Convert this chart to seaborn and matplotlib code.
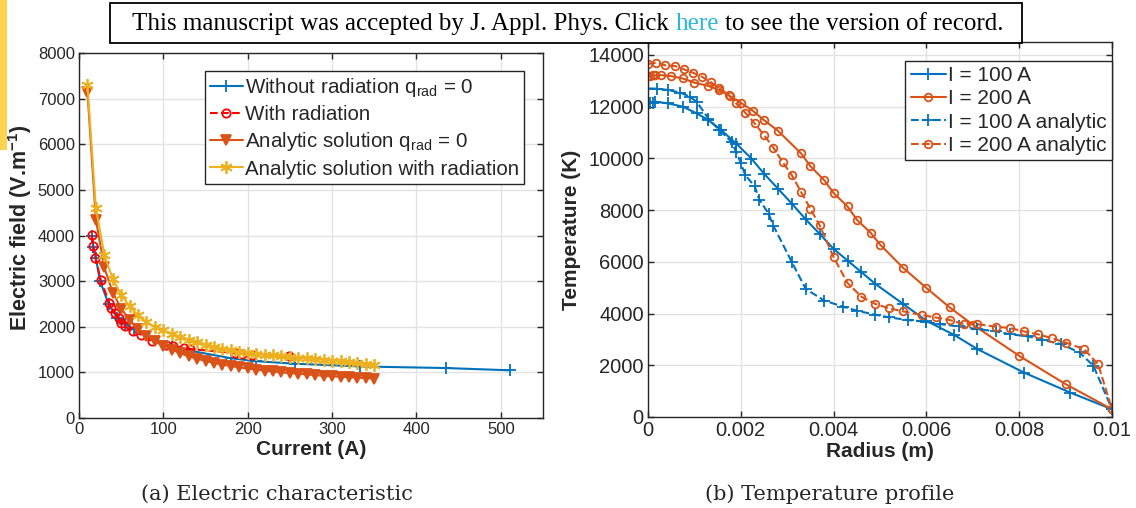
import numpy as np
import seaborn as sns
import matplotlib.pyplot as plt
from matplotlib.patches import Rectangle

# (a) electric characteristic
cur_norad = [15, 17, 20, 25, 35, 45, 55, 65, 110, 180, 210, 256, 333, 435, 511]
e_norad = [4000, 3750, 3500, 3000, 2500, 2200, 2050, 1950, 1550, 1310, 1245, 1190, 1130, 1095, 1045]

cur_rad = [15, 17, 19.5, 25.8, 36, 38.5, 42.7, 47, 50, 54, 63.5, 73.6, 87, 103.6, 111,
           124, 132, 185, 193, 205.6, 248.8]
e_rad = [4018, 3763, 3507, 3032, 2520, 2411, 2301, 2192, 2082, 2009, 1900, 1826, 1680,
         1607, 1585, 1534, 1512, 1425, 1410, 1388, 1366]

cur_an = [10, 20, 30, 40, 50, 60, 70, 80, 90, 100, 110, 120, 130, 140, 150, 160, 170, 180,
          190, 200, 210, 220, 230, 240, 250, 260, 270, 280, 290, 300, 310, 320, 330, 340, 350]
e_an0 = [7150, 4350, 3300, 2750, 2400, 2150, 1950, 1800, 1680, 1580, 1500, 1420, 1350, 1300,
         1250, 1210, 1170, 1140, 1110, 1085, 1060, 1040, 1020, 1000, 985, 970, 955, 940, 925,
         915, 905, 895, 885, 875, 865]
e_anrad = [7300, 4600, 3580, 3050, 2700, 2450, 2250, 2100, 2000, 1920, 1840, 1770, 1710, 1660,
           1610, 1560, 1520, 1485, 1450, 1420, 1400, 1385, 1370, 1355, 1335, 1320, 1305, 1290,
           1275, 1260, 1240, 1220, 1200, 1180, 1160]

# (b) temperature profile
r100 = [0, 0.00005, 0.0001, 0.00016, 0.00044, 0.00075, 0.00105, 0.0013, 0.00158, 0.0019,
        0.00223, 0.0025, 0.0028, 0.0031, 0.0034, 0.0037, 0.004, 0.0043, 0.0046, 0.0049,
        0.0055, 0.006, 0.0066, 0.0071, 0.0081, 0.0091, 0.01]
t100 = [12150, 12150, 12160, 12190, 12125, 12000, 11740, 11480, 11090, 10575, 9990, 9410,
        8830, 8250, 7640, 7080, 6500, 6050, 5600, 5145, 4370, 3720, 3170, 2625, 1720, 944, 300]

r200 = [0, 0.00005, 0.0001, 0.00016, 0.00028, 0.0005, 0.00075, 0.001, 0.0013, 0.00154,
        0.00176, 0.002, 0.00226, 0.0025, 0.0028, 0.0033, 0.0035, 0.0038, 0.004, 0.0043,
        0.0045, 0.0048, 0.005, 0.0055, 0.006, 0.0065, 0.007, 0.008, 0.009, 0.01]
t200 = [13200, 13200, 13210, 13210, 13220, 13180, 13090, 12930, 12800, 12640, 12410, 12150,
        11840, 11480, 11070, 10190, 9700, 9150, 8660, 8140, 7630, 7120, 6670, 5765, 4990,
        4240, 3570, 2365, 1270, 300]

r100_an = [0, 0.0002, 0.00044, 0.0007, 0.0009, 0.00105, 0.0013, 0.00154, 0.0018, 0.0019,
           0.002, 0.0021, 0.0023, 0.0024, 0.0026, 0.0027, 0.0031, 0.0034, 0.0038, 0.0042,
           0.0045, 0.0049, 0.0052, 0.0056, 0.006, 0.0063, 0.0067, 0.0071, 0.0075, 0.0078,
           0.0082, 0.0085, 0.0089, 0.0093, 0.0096, 0.01]
t100_an = [12700, 12700, 12640, 12540, 12385, 12190, 11540, 11090, 10640, 10250, 9820, 9345,
           8920, 8400, 7860, 7400, 5990, 4950, 4500, 4270, 4110, 3955, 3850, 3750, 3680, 3590,
           3500, 3400, 3310, 3200, 3115, 2985, 2820, 2495, 1980, 300]

r200_an = [0, 0.00018, 0.00037, 0.00058, 0.00078, 0.00097, 0.00116, 0.00135, 0.00154, 0.00174,
           0.0019, 0.0021, 0.0023, 0.0025, 0.0027, 0.0029, 0.0031, 0.0033, 0.0035, 0.0037,
           0.004, 0.0043, 0.0046, 0.0049, 0.0052, 0.0055, 0.0059, 0.0062, 0.0065, 0.0068,
           0.0071, 0.0075, 0.0078, 0.0081, 0.0084, 0.0087, 0.009, 0.0094, 0.0097, 0.01]
t200_an = [13650, 13700, 13600, 13570, 13440, 13310, 13160, 12950, 12710, 12450, 12125, 11760,
           11350, 10900, 10420, 9860, 9350, 8700, 8050, 7410, 6180, 5180, 4650, 4370, 4200,
           4085, 3940, 3850, 3750, 3600, 3590, 3490, 3440, 3310, 3200, 3050, 2880, 2620, 2040, 300]

blue = '#0072BD'
orange = '#D95319'
yellow = '#EDB120'
red = '#FF0000'

sns.set_style('whitegrid')
plt.rcParams['font.family'] = ['Liberation Sans', 'DejaVu Sans']
plt.rcParams['mathtext.fontset'] = 'custom'
plt.rcParams['mathtext.rm'] = 'Liberation Sans'
plt.rcParams['mathtext.it'] = 'Liberation Sans:italic'
plt.rcParams['mathtext.bf'] = 'Liberation Sans:bold'

fig = plt.figure(figsize=(11.36, 5.08), dpi=100)
ax1 = fig.add_axes([79 / 1136, 90 / 508, 464 / 1136, 365 / 508])
ax2 = fig.add_axes([648 / 1136, 91 / 508, 464 / 1136, 375 / 508])

asterisk = (6, 2, 0)


def draw(ax, x, y, col, mk, ms, ls, label, filled=False):
    sns.lineplot(x=x, y=y, ax=ax, color=col, marker=mk, markersize=ms,
                 markeredgecolor=col, markerfacecolor=col if filled else 'none',
                 markeredgewidth=1.3, linewidth=1.5, linestyle=ls, estimator=None,
                 label=label)


draw(ax1, cur_norad, e_norad, blue, '+', 9, '-', 'Without radiation q$_{\\rm rad}$ = 0')
draw(ax1, cur_rad, e_rad, red, 'o', 6, '--', 'With radiation')
draw(ax1, cur_an, e_an0, orange, 'v', 7, '-', 'Analytic solution q$_{\\rm rad}$ = 0', filled=True)
draw(ax1, cur_an, e_anrad, yellow, asterisk, 9, '-', 'Analytic solution with radiation')

draw(ax2, r100, t100, blue, '+', 9, '-', 'I = 100 A')
draw(ax2, r200, t200, orange, 'o', 5.5, '-', 'I = 200 A')
draw(ax2, r100_an, t100_an, blue, '+', 9, '--', 'I = 100 A analytic')
draw(ax2, r200_an, t200_an, orange, 'o', 5.5, '--', 'I = 200 A analytic')

for ax, ts in ((ax1, 12), (ax2, 14.5)):
    ax.grid(True, color='#E3E3E3', linewidth=1)
    for s in ax.spines.values():
        s.set_color('#262626')
        s.set_linewidth(1)
    ax.tick_params(direction='in', length=4, width=1, labelsize=ts, colors='#262626',
                   top=True, right=True, bottom=True, left=True, pad=3)

ax1.set_xlim(0, 550)
ax1.set_ylim(0, 8000)
ax1.set_xticks(np.arange(0, 501, 100))
ax1.set_yticks(np.arange(0, 8001, 1000))
ax1.set_xlabel('Current (A)', fontsize=15, fontweight='bold', labelpad=2)
ax1.set_ylabel('Electric field (V.m$^{\\mathbf{-1}}$)', fontsize=15.5, fontweight='bold')
ax1.yaxis.set_label_coords(-0.097, 0.52)

ax2.set_xlim(0, 0.01)
ax2.set_ylim(0, 14500)
ax2.set_xticks([0, 0.002, 0.004, 0.006, 0.008, 0.01])
ax2.set_xticklabels(['0', '0.002', '0.004', '0.006', '0.008', '0.01'])
ax2.set_yticks(np.arange(0, 14001, 2000))
ax2.set_xlabel('Radius (m)', fontsize=15, fontweight='bold', labelpad=1)
ax2.set_ylabel('Temperature (K)', fontsize=15, fontweight='bold', labelpad=5)

leg1 = ax1.legend(loc='upper right', bbox_to_anchor=(0.959, 0.951), fontsize=14.8,
                  frameon=True, fancybox=False, edgecolor='#262626', framealpha=1,
                  handlelength=1.6, handletextpad=0.1, labelspacing=0.3, borderpad=0.25,
                  borderaxespad=0)
leg2 = ax2.legend(loc='upper right', bbox_to_anchor=(1.0, 0.949), fontsize=15,
                  frameon=True, fancybox=False, edgecolor='#262626', framealpha=1,
                  handlelength=1.7, handletextpad=0.1, labelspacing=0.2, borderpad=0.25,
                  borderaxespad=0)
for leg in (leg1, leg2):
    leg.get_frame().set_linewidth(1)

# banner and side strip
fig.patches.append(Rectangle((0, 1 - 150 / 508), 7 / 1136, 150 / 508, transform=fig.transFigure,
                             facecolor='#FFD34E', edgecolor='none', zorder=10))
fig.patches.append(Rectangle((110 / 1136, 1 - 43 / 508), 912 / 1136, 40 / 508,
                             transform=fig.transFigure, facecolor='white', edgecolor='black',
                             linewidth=1.3, zorder=10))

parts = [('This manuscript was accepted by J. Appl. Phys. Click', 'black'),
         ('here', '#29B8DB'),
         ('to see the version of record.', 'black')]
fig.canvas.draw()
renderer = fig.canvas.get_renderer()
bfont = dict(family='Liberation Serif', size=18)
t_a = fig.text(0, 0, 'x x', **bfont)
t_b = fig.text(0, 0, 'xx', **bfont)
space = t_a.get_window_extent(renderer).width - t_b.get_window_extent(renderer).width
t_a.remove()
t_b.remove()
widths = []
for txt, col in parts:
    t = fig.text(0, 0, txt, **bfont)
    widths.append(t.get_window_extent(renderer).width)
    t.remove()
total = sum(widths) + space * (len(parts) - 1)
x = 568 - total / 2
for (txt, col), w in zip(parts, widths):
    fig.text(x / 1136, 1 - 24 / 508, txt, color=col, ha='left', va='center', zorder=11, **bfont)
    x += w + space

cfont = dict(family='DejaVu Serif', size=15)
fig.text(277 / 1136, 1 - 494 / 508, '(a) Electric characteristic', ha='center', va='center', **cfont)
fig.text(830 / 1136, 1 - 494 / 508, '(b) Temperature profile', ha='center', va='center', **cfont)

fig.savefig('out.png', dpi=100)
